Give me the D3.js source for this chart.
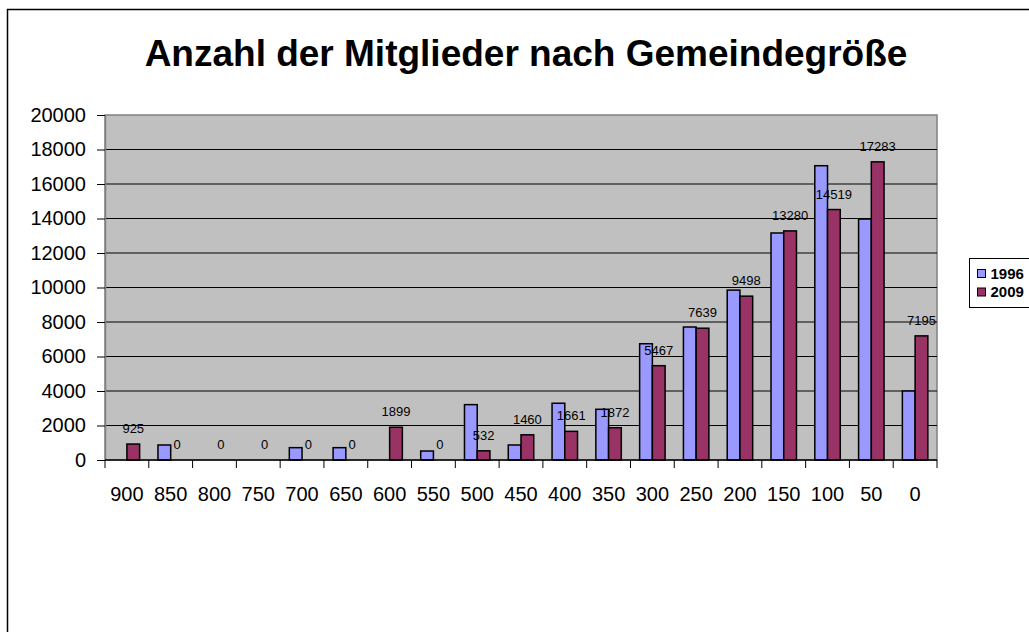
<!DOCTYPE html>
<html lang="de">
<head>
  <meta charset="UTF-8">
  <title>Anzahl der Mitglieder nach Gemeindegröße</title>
  <script src="https://d3js.org/d3.v7.min.js"></script>
  <style>
    body {
      margin: 0;
      background: #fff;
      font-family: "Liberation Sans", Arial, sans-serif;
    }

    svg {
      display: block;
    }

    .tick-label {
      font-size: 20px;
      fill: #000;
    }

    .bar-label {
      font-size: 13px;
      fill: #000;
    }
  </style>
</head>
<body>
  <svg width="1029" height="632"></svg>

  <script>
    // Gemeindegröße (Kategorien) und Mitglieder je Jahr
    const categories = ["900", "850", "800", "750", "700", "650", "600", "550", "500", "450",
                        "400", "350", "300", "250", "200", "150", "100", "50", "0"];
    const members1996 = [0, 870, 0, 0, 715, 715, 0, 520, 3210, 870,
                         3290, 2940, 6740, 7710, 9850, 13160, 17060, 13970, 4000];
    const members2009 = [925, 0, 0, 0, 0, 0, 1899, 0, 532, 1460,
                         1661, 1872, 5467, 7639, 9498, 13280, 14519, 17283, 7195];
    const seriesNames = ["1996", "2009"];
    const yTicks = [0, 2000, 4000, 6000, 8000, 10000, 12000, 14000, 16000, 18000, 20000];

    const colors = { "1996": "#9999FF", "2009": "#993366" };

    const rows = categories.map((c, i) => ({
      cat: c,
      values: [
        { key: "1996", value: members1996[i] },
        { key: "2009", value: members2009[i] }
      ]
    }));

    const svg = d3.select("svg");

    // outer chart frame (runs off the right and bottom edge)
    svg.append("rect")
      .attr("x", 7.5).attr("y", 9.5)
      .attr("width", 1100).attr("height", 700)
      .attr("fill", "#fff")
      .attr("stroke", "#000")
      .attr("stroke-width", 1.5);

    const plot = { left: 105, right: 937, top: 115, bottom: 460 };

    const x = d3.scaleBand()
      .domain(categories)
      .range([plot.left, plot.right])
      .paddingInner(0)
      .paddingOuter(0);

    const x1 = d3.scaleBand()
      .domain(seriesNames)
      .range([0, x.bandwidth()])
      .paddingInner(0)
      .paddingOuter(0.72);

    const y = d3.scaleLinear()
      .domain([0, 20000])
      .range([plot.bottom, plot.top]);

    // plot area
    svg.append("rect")
      .attr("x", plot.left).attr("y", plot.top)
      .attr("width", plot.right - plot.left)
      .attr("height", plot.bottom - plot.top)
      .attr("fill", "#C0C0C0")
      .attr("stroke", "#808080")
      .attr("stroke-width", 1.5);

    // gridlines
    svg.append("g")
      .selectAll("line")
      .data(yTicks.filter(t => t > 0 && t < 20000))
      .enter().append("line")
      .attr("x1", plot.left).attr("x2", plot.right)
      .attr("y1", d => y(d)).attr("y2", d => y(d))
      .attr("stroke", "#000")
      .attr("stroke-width", 1);

    // y axis
    const yAxis = svg.append("g")
      .attr("transform", `translate(${plot.left},0)`)
      .call(d3.axisLeft(y).tickValues(yTicks).tickFormat(d3.format("d"))
        .tickSize(8).tickSizeOuter(0).tickPadding(11));
    yAxis.select(".domain").attr("stroke", "#808080").attr("stroke-width", 1.5);
    yAxis.selectAll(".tick line").attr("stroke", "#000");
    yAxis.selectAll(".tick text")
      .attr("class", "tick-label")
      .attr("font-family", null)
      .attr("font-size", null);

    // bars
    const groups = svg.append("g")
      .selectAll("g")
      .data(rows)
      .enter().append("g")
      .attr("transform", d => `translate(${x(d.cat)},0)`);

    groups.selectAll("rect")
      .data(d => d.values.filter(v => v.value > 0))
      .enter().append("rect")
      .attr("x", d => x1(d.key))
      .attr("y", d => y(d.value))
      .attr("width", x1.bandwidth())
      .attr("height", d => y(0) - y(d.value))
      .attr("fill", d => colors[d.key])
      .attr("stroke", "#000")
      .attr("stroke-width", 1.5);

    // data labels (2009)
    groups.append("text")
      .attr("class", "bar-label")
      .attr("text-anchor", "middle")
      .attr("x", x1("2009") + x1.bandwidth() / 2)
      .attr("y", d => y(d.values[1].value) - 11)
      .text(d => d.values[1].value);

    // x axis line and category boundary ticks
    svg.append("line")
      .attr("x1", plot.left).attr("x2", plot.right)
      .attr("y1", plot.bottom).attr("y2", plot.bottom)
      .attr("stroke", "#000")
      .attr("stroke-width", 1.5);

    const bounds = categories.map(c => x(c)).concat([plot.right]);
    svg.append("g")
      .selectAll("line")
      .data(bounds)
      .enter().append("line")
      .attr("x1", d => d).attr("x2", d => d)
      .attr("y1", plot.bottom).attr("y2", plot.bottom + 8)
      .attr("stroke", "#000")
      .attr("stroke-width", 1);

    const xAxis = svg.append("g")
      .attr("transform", `translate(0,${plot.bottom})`)
      .call(d3.axisBottom(x).tickSize(0).tickPadding(27));
    xAxis.select(".domain").remove();
    xAxis.selectAll(".tick text")
      .attr("class", "tick-label")
      .attr("font-family", null)
      .attr("font-size", null);

    // title
    svg.append("text")
      .attr("x", 526)
      .attr("y", 66)
      .attr("text-anchor", "middle")
      .attr("font-size", 37)
      .attr("font-weight", "bold")
      .text("Anzahl der Mitglieder nach Gemeindegröße");

    // legend
    const legend = svg.append("g").attr("transform", "translate(969.5,258.5)");
    legend.append("rect")
      .attr("width", 120).attr("height", 49)
      .attr("fill", "#fff")
      .attr("stroke", "#000")
      .attr("stroke-width", 1);

    const items = legend.selectAll("g")
      .data(seriesNames)
      .enter().append("g")
      .attr("transform", (d, i) => `translate(8,${15 + i * 18.5})`);

    items.append("rect")
      .attr("x", 0).attr("y", -4)
      .attr("width", 8).attr("height", 8)
      .attr("fill", d => colors[d])
      .attr("stroke", "#000")
      .attr("stroke-width", 1);

    items.append("text")
      .attr("x", 13)
      .attr("dy", "0.36em")
      .attr("font-size", 15)
      .attr("font-weight", "bold")
      .text(d => d);
  </script>
</body>
</html>
